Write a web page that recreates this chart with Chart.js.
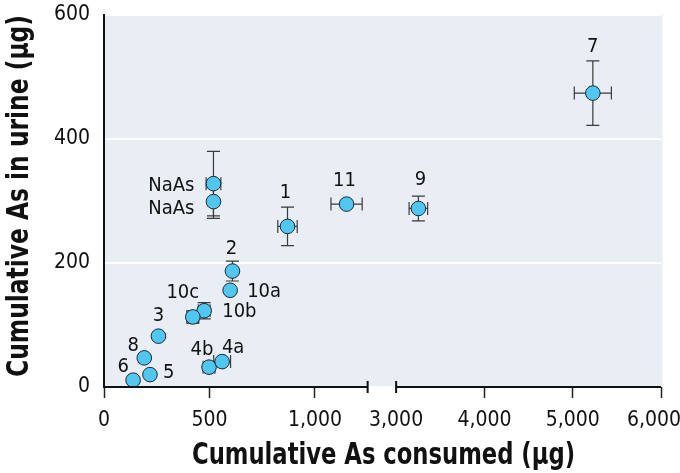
<!DOCTYPE html>
<html>
<head>
<meta charset="utf-8">
<script src="https://cdn.jsdelivr.net/npm/chart.js@4.4.1/dist/chart.umd.min.js"></script>
<style>
  html, body { margin: 0; padding: 0; background: #ffffff; }
  #wrap { width: 680px; height: 473px; position: relative; }
</style>
</head>
<body>
<div id="wrap"><canvas id="c" width="680" height="473"></canvas></div>
<script>
// ---- data ----
const pointLabels = ["NaAs", "NaAs", "1", "2", "10a", "10b", "10c", "3", "8", "6", "5", "4b", "4a", "11", "9", "7"];
const asConsumed  = [519, 519, 870, 609, 598, 475, 421, 258, 191, 138, 218, 498, 560, 1150, 3252, 5228];
const asUrine     = [328, 299, 259, 187, 156, 123, 113, 82, 47, 11, 20, 32, 41, 295, 288, 474];
const consumedErr = [35, 0, 46, 0, 0, 28, 28, 0, 0, 0, 0, 28, 40, 74, 105, 210];
const urineErr    = [52, 27, 31, 16, 0, 13, 10, 0, 0, 0, 0, 0, 0, 0, 20, 52];
const xTickValues = [0, 500, 1000, 3000, 4000, 5000, 6000];
const xTickLabels = ["0", "500", "1,000", "3,000", "4,000", "5,000", "6,000"];
const yTickValues = [0, 200, 400, 600];
const yTickLabels = ["0", "200", "400", "600"];
const xTitle = "Cumulative As consumed (µg)";
const yTitle = "Cumulative As in urine (µg)";

// ---- label placement (style, not data) ----
const labelPlacement = [
  [-19, 2, 'right'], [-19, 7, 'right'], [-2, -34, 'center'], [-1, -22, 'center'],
  [17, 2, 'left'], [18, 1, 'left'], [-10, -24, 'center'], [0, -20, 'center'],
  [-11, -12, 'center'], [-10, -13, 'center'], [13, -2, 'left'], [-7, -17, 'center'],
  [11, -14, 'center'], [-2, -23, 'center'], [2, -29, 'center'], [0, -46, 'center']
];

// ---- broken x axis: 0–1,250 | 3,000–6,000 ----
const LEFT_MAX = 1250, RIGHT_MIN = 3000, RIGHT_MAX = 6000;
const GAP_U = 135, RIGHT_K = 0.4186;
function toAxis(v) { return v < RIGHT_MIN ? v : LEFT_MAX + GAP_U + (v - RIGHT_MIN) * RIGHT_K; }

const NARROW = '"Liberation Sans Narrow", "DejaVu Sans Condensed", "Roboto", sans-serif';
const POINT_FILL = '#4fc7f1';

const points = asConsumed.map((x, i) => ({ x: toAxis(x), y: asUrine[i] }));

const bgPlugin = {
  id: 'plotBg',
  beforeDraw(chart) {
    const a = chart.chartArea, ctx = chart.ctx;
    ctx.save();
    ctx.fillStyle = '#e8eef3';
    ctx.fillRect(a.left, a.top, a.right - a.left + 1.5, a.bottom - a.top);
    ctx.restore();
    // keep the last x tick label inside the canvas, as in the reference
    const xs = chart.scales.x;
    if (xs && xs.getLabelItems) {
      const items = xs.getLabelItems(a);
      const last = items && items[items.length - 1];
      if (last && last.options && last.options.translation && !last._shifted) {
        last.options.translation[0] -= 7;
        last._shifted = true;
      }
    }
  }
};

const errPlugin = {
  id: 'errBars',
  beforeDatasetsDraw(chart) {
    const xs = chart.scales.x, ys = chart.scales.y, ctx = chart.ctx;
    ctx.save();
    ctx.strokeStyle = '#3a3a3a';
    ctx.lineWidth = 1.2;
    const cap = 6.5;
    asConsumed.forEach((xv, i) => {
      const px = xs.getPixelForValue(toAxis(xv));
      const py = ys.getPixelForValue(asUrine[i]);
      if (urineErr[i] > 0) {
        const t = ys.getPixelForValue(asUrine[i] + urineErr[i]);
        const b = ys.getPixelForValue(asUrine[i] - urineErr[i]);
        ctx.beginPath();
        ctx.moveTo(px, t); ctx.lineTo(px, b);
        ctx.moveTo(px - cap, t); ctx.lineTo(px + cap, t);
        ctx.moveTo(px - cap, b); ctx.lineTo(px + cap, b);
        ctx.stroke();
      }
      if (consumedErr[i] > 0) {
        const l = xs.getPixelForValue(toAxis(xv - consumedErr[i]));
        const r = xs.getPixelForValue(toAxis(xv + consumedErr[i]));
        ctx.beginPath();
        ctx.moveTo(l, py); ctx.lineTo(r, py);
        ctx.moveTo(l, py - cap); ctx.lineTo(l, py + cap);
        ctx.moveTo(r, py - cap); ctx.lineTo(r, py + cap);
        ctx.stroke();
      }
    });
    ctx.restore();
  }
};

const labelPlugin = {
  id: 'ptLabels',
  afterDatasetsDraw(chart) {
    const xs = chart.scales.x, ys = chart.scales.y, ctx = chart.ctx;
    ctx.save();
    ctx.fillStyle = '#111';
    ctx.font = '20px ' + NARROW;
    ctx.textBaseline = 'middle';
    pointLabels.forEach((t, i) => {
      const px = xs.getPixelForValue(toAxis(asConsumed[i]));
      const py = ys.getPixelForValue(asUrine[i]);
      const p = labelPlacement[i];
      ctx.textAlign = p[2];
      ctx.fillText(t, px + p[0], py + p[1]);
    });
    ctx.restore();
  }
};

function drawCondensed(ctx, text, targetWidth) {
  const w = ctx.measureText(text).width;
  const k = Math.min(1, targetWidth / w);
  ctx.scale(k, 1);
  ctx.fillText(text, 0, 0);
}

const axisPlugin = {
  id: 'brokenAxis',
  afterDraw(chart) {
    const xs = chart.scales.x, a = chart.chartArea, ctx = chart.ctx;
    const y = a.bottom;
    const x1 = xs.getPixelForValue(toAxis(LEFT_MAX));
    const x2 = xs.getPixelForValue(toAxis(RIGHT_MIN));
    const x3 = xs.getPixelForValue(toAxis(RIGHT_MAX));
    ctx.save();
    ctx.strokeStyle = '#111';
    ctx.lineWidth = 2;
    ctx.beginPath();
    ctx.moveTo(a.left - 1, y); ctx.lineTo(x1, y);
    ctx.moveTo(x2, y); ctx.lineTo(x3, y);
    ctx.moveTo(x1, y - 6); ctx.lineTo(x1, y + 6);
    ctx.moveTo(x2, y - 6); ctx.lineTo(x2, y + 6);
    ctx.stroke();
    ctx.restore();

    // axis titles (bold condensed)
    ctx.save();
    ctx.fillStyle = '#111';
    ctx.font = 'bold 30px ' + NARROW;
    ctx.textAlign = 'center';
    ctx.textBaseline = 'alphabetic';
    ctx.translate((a.left + a.right) / 2 + 1, a.bottom + 77);
    drawCondensed(ctx, xTitle, 383);
    ctx.restore();

    ctx.save();
    ctx.fillStyle = '#111';
    ctx.font = 'bold 30px ' + NARROW;
    ctx.textAlign = 'center';
    ctx.textBaseline = 'alphabetic';
    ctx.translate(28, (a.top + a.bottom) / 2 - 5);
    ctx.rotate(-Math.PI / 2);
    drawCondensed(ctx, yTitle, 362);
    ctx.restore();
  }
};

new Chart(document.getElementById('c'), {
  type: 'scatter',
  data: {
    datasets: [{
      data: points,
      pointRadius: 7.3,
      pointHoverRadius: 7.3,
      backgroundColor: POINT_FILL,
      borderColor: '#1b2836',
      borderWidth: 1,
      clip: false
    }]
  },
  options: {
    responsive: false,
    animation: false,
    events: [],
    layout: { padding: { top: 15, right: 19, left: 0, bottom: 0 } },
    plugins: { legend: { display: false }, tooltip: { enabled: false } },
    scales: {
      x: {
        type: 'linear',
        min: 0,
        max: toAxis(RIGHT_MAX),
        afterBuildTicks(scale) { scale.ticks = xTickValues.map(v => ({ value: toAxis(v) })); },
        afterFit(scale) { scale.height = 86; scale.paddingLeft = 0; scale.paddingRight = 0; },
        ticks: {
          callback: (v, i) => xTickLabels[i],
          color: '#111',
          font: { family: NARROW, size: 21 },
          padding: 10,
          maxRotation: 0,
          autoSkip: false
        },
        grid: {
          drawOnChartArea: false,
          drawTicks: true,
          tickLength: 11,
          tickWidth: 1.5,
          tickColor: (ctx) => (ctx.tick && Math.abs(ctx.tick.value - toAxis(RIGHT_MIN)) < 1e-6) ? 'rgba(0,0,0,0)' : '#222'
        },
        border: { display: false },
        title: { display: false }
      },
      y: {
        type: 'linear',
        min: 0,
        max: 600,
        afterBuildTicks(scale) { scale.ticks = yTickValues.map(v => ({ value: v })); },
        afterFit(scale) { scale.width = 104; scale.paddingTop = 0; scale.paddingBottom = 0; },
        ticks: {
          callback: (v, i) => yTickLabels[i],
          color: '#111',
          font: { family: NARROW, size: 21 },
          padding: 14
        },
        grid: {
          color: '#ffffff',
          lineWidth: 2,
          drawTicks: false
        },
        border: { display: true, color: '#111', width: 2 },
        title: { display: false }
      }
    }
  },
  plugins: [bgPlugin, errPlugin, labelPlugin, axisPlugin]
});
</script>
</body>
</html>
